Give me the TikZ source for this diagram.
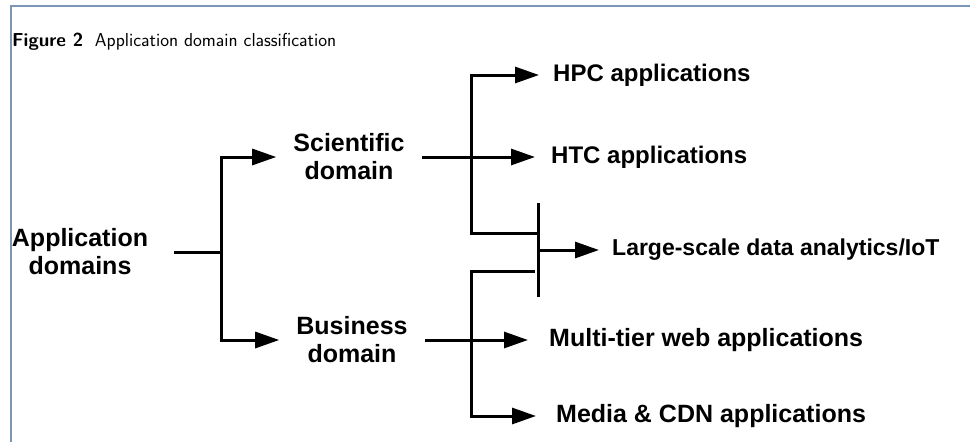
\documentclass[tikz,border=0pt]{standalone}
\usepackage{fontspec}
\newfontfamily\labfont{Liberation Sans}
\usepackage{tikz}
\usetikzlibrary{arrows.meta,positioning}
\definecolor{framebl}{RGB}{122,150,181}
\tikzset{
	wire/.style={line width=3pt},
	arr/.style={wire,-{Triangle[length=24pt,width=16pt]}},
	mid/.style={font=\labfont\bfseries\fontsize{25}{28}\selectfont,align=center,inner xsep=17pt,inner ysep=0pt},
	leaf/.style={font=\labfont\bfseries\fontsize{24}{27}\selectfont,anchor=west,inner sep=0pt}
}
\begin{document}
\begin{tikzpicture}[x=1pt,y=-1pt]
\useasboundingbox (0,0) rectangle (970,442);
%frame and caption
\draw[framebl,line width=2pt] (11,442) -- (11,5.5) -- (970,5.5);
\node[anchor=base west,inner sep=0pt,font=\sffamily\fontsize{18.8}{22}\selectfont] (cap) at (12,46) {\textbf{Figure 2}\ \ Application domain classification};
%left
\node[mid,inner xsep=26pt] (app) at (80,252) {Application\\domains};
\node[mid] (sci) at (349,157) {Scientific\\domain};
\node[mid] (bus) at (352,340) {Business\\domain};
\coordinate (aj) at (221,252);
\draw[wire] (app.east) -- (aj);
\draw[arr] (aj) |- (sci.west);
\draw[arr] (aj) |- (bus.west);
%right
\node[leaf] (hpc) at (553,75) {HPC applications};
\node[leaf] (htc) at (551,157) {HTC applications};
\node[leaf,font=\labfont\bfseries\fontsize{23}{26}\selectfont] (lsd) at (612,250) {Large-scale data analytics/IoT};
\node[leaf,font=\labfont\bfseries\fontsize{25}{28}\selectfont] (mtw) at (549,340) {Multi-tier web applications};
\node[leaf,font=\labfont\bfseries\fontsize{25}{28}\selectfont] (cdn) at (556,416) {Media \& CDN applications};
\coordinate (sj) at (471,157);
\coordinate (bj) at (471,340);
\coordinate (bt) at (538,203);
\coordinate (bb) at (538,297);
\coordinate (bm) at (538,250);
\draw[arr] (sci.east) -- ([xshift=-16pt]htc.west);
\draw[arr] (sj) |- ([xshift=-14pt]hpc.west);
\draw[wire] (sj) |- (bt|-0,233);
\draw[wire] (bt) -- (bb);
\draw[arr] (bm) -- ([xshift=-13pt]lsd.west);
\draw[arr] (bus.east) -- ([xshift=-21pt]mtw.west);
\draw[wire] (bj) |- (535,271);
\draw[arr] (bj) |- ([xshift=-20pt]cdn.west);
\end{tikzpicture}
\end{document}
